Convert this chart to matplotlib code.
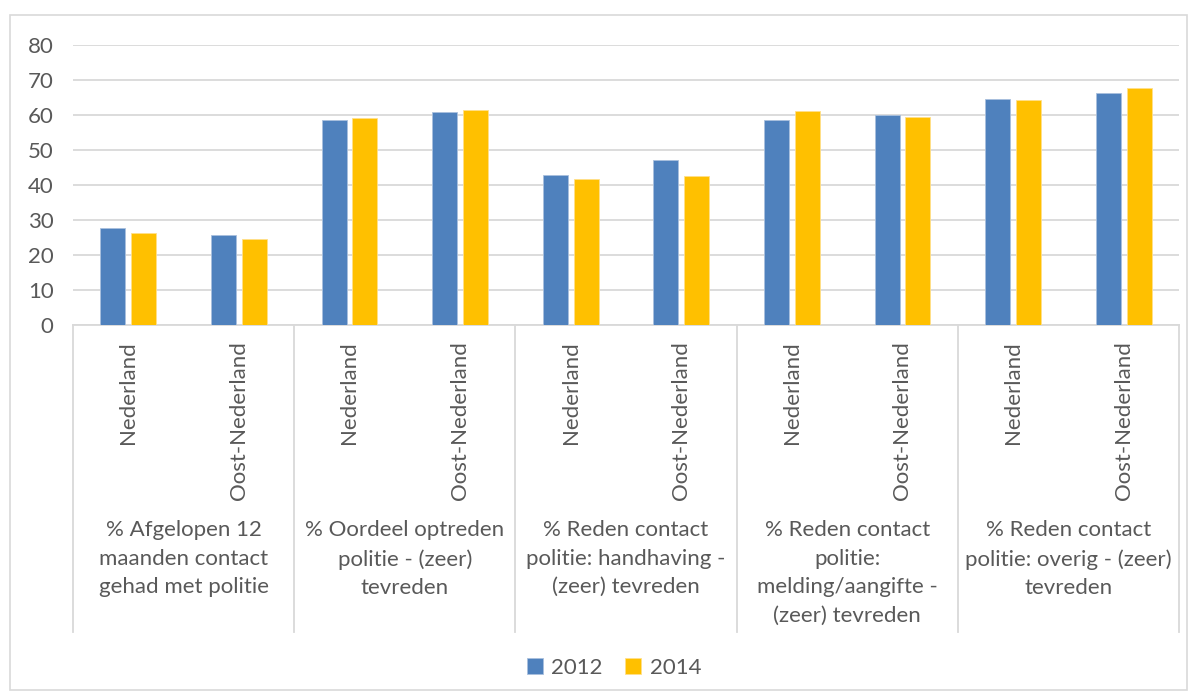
import matplotlib.pyplot as plt
import matplotlib.transforms as mtransforms
from matplotlib.patches import Rectangle
import numpy as np

# Data (percentages)
groups = ["% Afgelopen 12\nmaanden contact\ngehad met politie",
          "% Oordeel optreden\npolitie - (zeer)\ntevreden",
          "% Reden contact\npolitie: handhaving -\n(zeer) tevreden",
          "% Reden contact\npolitie:\nmelding/aangifte -\n(zeer) tevreden",
          "% Reden contact\npolitie: overig - (zeer)\ntevreden"]
regions = ["Nederland", "Oost-Nederland"]
series = ["2012", "2014"]
vals_2012 = [27.8, 25.7, 58.6, 60.8, 43.0, 47.1, 58.6, 60.0, 64.6, 66.2]
vals_2014 = [26.2, 24.5, 59.2, 61.3, 41.7, 42.5, 61.2, 59.4, 64.2, 67.6]

blue = "#4F81BD"
yellow = "#FFC000"
text_c = "#595959"
grid_c = "#D9D9D9"
fs = 16

plt.rcParams['font.family'] = ['Lato', 'DejaVu Sans']

W, H = 1197, 698
fig = plt.figure(figsize=(W / 100, H / 100), dpi=100)
fig.patch.set_facecolor("white")

# outer chart border
fig.patches.append(Rectangle((10 / W, 1 - 690 / H), 1177 / W, 675 / H, transform=fig.transFigure,
                             fill=False, edgecolor=grid_c, linewidth=1.2))

left, right, top, bottom = 73, 1179, 45, 325
ax = fig.add_axes([left / W, 1 - bottom / H, (right - left) / W, (bottom - top) / H])

n = len(vals_2012)
x = np.arange(n) + 0.5
bw = 0.226
off = 0.14
ax.bar(x - off, vals_2012, width=bw, color=blue, edgecolor="#A9C0DE", linewidth=0.6, label=series[0], zorder=3)
ax.bar(x + off, vals_2014, width=bw, color=yellow, edgecolor="#FFE08A", linewidth=0.6, label=series[1], zorder=3)

ax.set_xlim(0, n)
ax.set_ylim(0, 80)
ax.set_yticks(np.arange(0, 81, 10))
ax.yaxis.grid(True, color=grid_c, linewidth=1.3, zorder=0)
ax.set_axisbelow(True)
ax.set_xticks([])
ax.tick_params(axis="y", length=0, pad=14, labelsize=fs, labelcolor=text_c)
for s in ["left", "right", "top"]:
    ax.spines[s].set_visible(False)
ax.spines["bottom"].set_color(grid_c)
ax.spines["bottom"].set_linewidth(1.3)

trans = mtransforms.blended_transform_factory(ax.transData, ax.transAxes)
ph = bottom - top
line_bottom = -(632 - bottom) / ph

# group dividers
for g in range(len(groups) + 1):
    ax.plot([2 * g, 2 * g], [0, line_bottom], transform=trans, color=grid_c, linewidth=1.3,
            clip_on=False)

# rotated region labels
for i in range(n):
    ax.text(x[i], -(341 - bottom) / ph, regions[i % 2], transform=trans, rotation=90,
            ha="center", va="top", fontsize=fs, color=text_c)

# group labels
for g, lab in enumerate(groups):
    ax.text(2 * g + 1, -(520 - bottom) / ph, lab, transform=trans, ha="center", va="top",
            fontsize=fs, color=text_c, linespacing=1.54)

leg = fig.legend(loc="center", bbox_to_anchor=(614 / W, 1 - 668 / H), ncol=2, frameon=False,
                 fontsize=fs, handlelength=0.7, handleheight=0.7, handletextpad=0.4,
                 columnspacing=1.0, labelcolor=text_c)

fig.savefig("out.png", dpi=100, facecolor="white")
